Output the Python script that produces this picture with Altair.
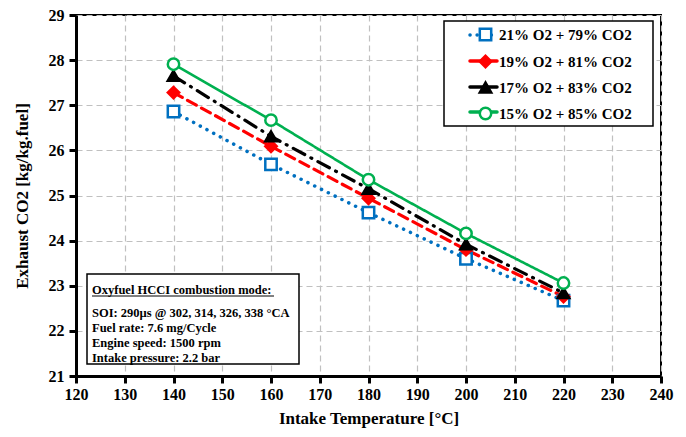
import altair as alt
import pandas as pd

temps = [140, 160, 180, 200, 220]
series_names = ["21% O2 + 79% CO2", "19% O2 + 81% CO2", "17% O2 + 83% CO2", "15% O2 + 85% CO2"]
s21 = [26.86, 25.69, 24.62, 23.60, 22.67]
s19 = [27.28, 26.09, 24.94, 23.80, 22.76]
s17 = [27.65, 26.31, 25.15, 23.92, 22.84]
s15 = [27.91, 26.67, 25.35, 24.16, 23.06]
x_ticks = [120, 130, 140, 150, 160, 170, 180, 190, 200, 210, 220, 230, 240]
y_ticks = [21, 22, 23, 24, 25, 26, 27, 28, 29]
note_title = "Oxyfuel HCCI combustion mode:"
note_lines = ["SOI: 290\u00b5s @ 302, 314, 326, 338 \u00b0CA", "Fuel rate: 7.6 mg/Cycle",
              "Engine speed: 1500 rpm", "Intake pressure: 2.2 bar"]

rows = []
for name, vals in zip(series_names, [s21, s19, s17, s15]):
    for t, v in zip(temps, vals):
        rows.append({"T": t, "CO2": v, "series": name})
df = pd.DataFrame(rows)

colors = ["#0070C0", "#FF0000", "#000000", "#00B050"]
fills = ["#FFFFFF", "#FF0000", "#000000", "#FFFFFF"]
shapes = ["square", "diamond", "triangle-up", "circle"]
dashes = [[0.1, 7.5], [10, 6], [13, 7, 1, 7], [1, 0]]
widths = [3.5, 3.2, 3.2, 2.6]

W, H = 585, 361
FONT = "Liberation Serif, Times New Roman, serif"

xenc = alt.X("T:Q", scale=alt.Scale(domain=[120, 240], nice=False),
             axis=alt.Axis(values=x_ticks, title="Intake Temperature [\u00b0C]",
                           labelPadding=3, titlePadding=8, labelFlush=False, labelOverlap=False))
yenc = alt.Y("CO2:Q", scale=alt.Scale(domain=[21, 29], nice=False),
             axis=alt.Axis(values=y_ticks, title="Exhaust CO2 [kg/kg.fuel]",
                           labelPadding=5, titlePadding=17, labelFlush=False, labelOverlap=False))
sel = alt.Stroke("series:N", scale=alt.Scale(domain=series_names, range=colors),
                 legend=alt.Legend(title=None, orient="none", legendX=402, legendY=12,
                                   labelFont=FONT, labelFontSize=15, labelFontWeight="bold",
                                   labelColor="black",
                                   labelOffset=6, rowPadding=4, symbolSize=130,
                                   symbolStrokeWidth=2.5, padding=0))

base = alt.Chart(df)

line_layers = []
for name, dsh, w in zip(series_names, dashes, widths):
    line_layers.append(
        base.transform_filter(alt.datum.series == name)
        .mark_line(strokeWidth=w, strokeCap="round", strokeDash=dsh)
        .encode(x=xenc, y=yenc, stroke=sel)
    )
points = base.mark_point(size=130, strokeWidth=2.5, opacity=1).encode(
    x=xenc, y=yenc, stroke=sel,
    fill=alt.Fill("series:N", scale=alt.Scale(domain=series_names, range=fills)),
    shape=alt.Shape("series:N", scale=alt.Scale(domain=series_names, range=shapes)),
)

one = alt.Chart(pd.DataFrame({"a": [0]}))
legend_box = one.mark_rect(fill="white", stroke="black", strokeWidth=1.5).encode(
    x=alt.value(368), x2=alt.value(577), y=alt.value(6), y2=alt.value(111))
note_box = one.mark_rect(fill="white", stroke="black", strokeWidth=1.5).encode(
    x=alt.value(11), x2=alt.value(223), y=alt.value(259), y2=alt.value(349))
layers = [legend_box, note_box]
# legend sample lines (decoration behind legend symbols)
sample_rows = [20, 46, 72, 97]
sample_dash = [[0.1, 7], [1, 0], [1, 0], [1, 0]]
for c, yy, dsh in zip(colors, sample_rows, sample_dash):
    layers.append(one.mark_rule(color=c, strokeWidth=3.5, strokeCap="round", strokeDash=dsh).encode(
        x=alt.value(394), x2=alt.value(421), y=alt.value(yy)))
layers.append(one.mark_text(align="left", baseline="middle", font=FONT, fontSize=12.5,
                            fontWeight="bold", color="black").encode(
    x=alt.value(16), y=alt.value(275), text=alt.value(note_title)))
layers.append(one.mark_rule(color="black", strokeWidth=1).encode(
    x=alt.value(16), x2=alt.value(198), y=alt.value(281)))
for i, line in enumerate(note_lines):
    layers.append(one.mark_text(align="left", baseline="middle", font=FONT, fontSize=12.5,
                                fontWeight="bold", color="black").encode(
        x=alt.value(16), y=alt.value(298 + 15 * i), text=alt.value(line)))

chart = alt.layer(*layers, *line_layers, points).properties(
    width=W, height=H,
    autosize=alt.AutoSizeParams(type="none"),
    padding={"left": 68, "top": 7, "right": 17, "bottom": 60},
).configure(font=FONT).configure_view(stroke="black", strokeWidth=2).configure_axis(
    labelFont=FONT, labelFontSize=16, labelFontWeight="bold", labelColor="black",
    titleFont=FONT, titleFontSize=17, titleFontWeight="bold", titleColor="black",
    domainColor="black", domainWidth=3, tickColor="black", tickWidth=3, tickSize=7,
    gridColor="#c0c0c0", gridDash=[6, 4], gridWidth=1.2,
)

chart.save("out.html", embed_options={"renderer": "svg", "actions": False})
